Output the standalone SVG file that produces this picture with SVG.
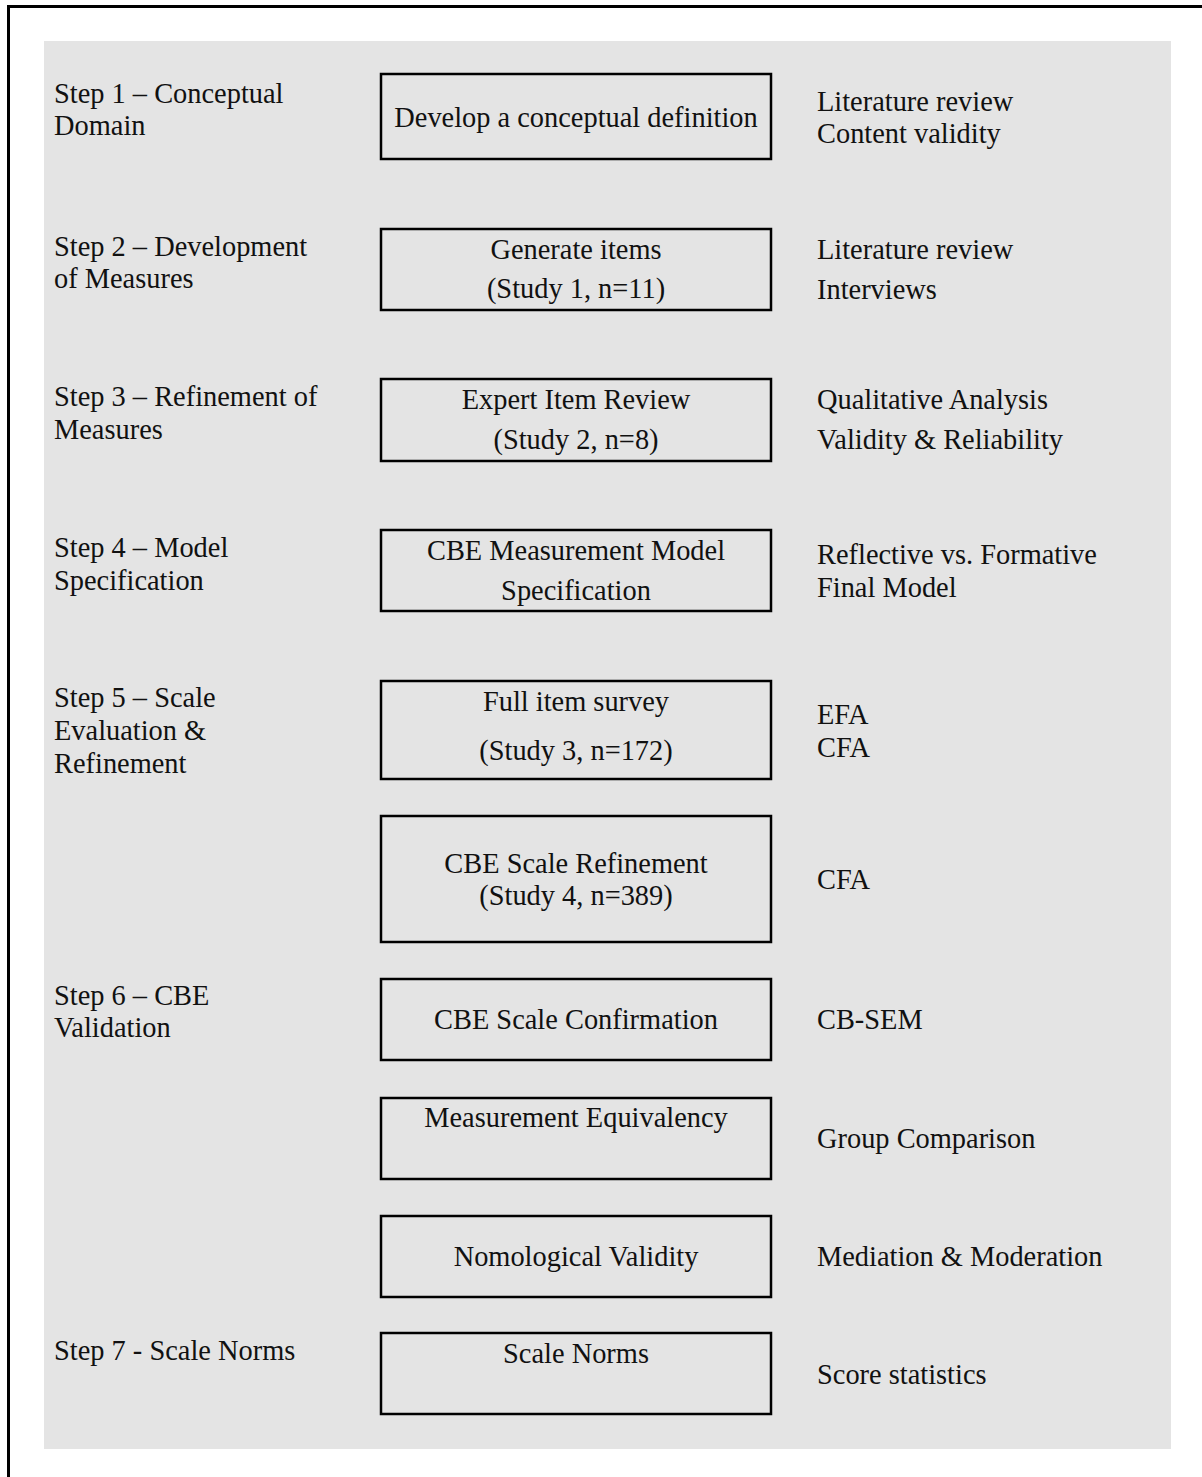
<svg xmlns="http://www.w3.org/2000/svg" width="1202" height="1477" viewBox="0 0 1202 1477">
<style>
text{font-family:"Liberation Serif","Times New Roman",serif;font-size:28.4px;fill:#111}
.c{text-anchor:middle}
.box{fill:#e4e4e4;stroke:#000;stroke-width:2.5}
</style>
<rect width="1202" height="1477" fill="#fff"/>
<path d="M8.5 1477 V6.5 H1202" fill="none" stroke="#000" stroke-width="3"/>
<rect x="44" y="41" width="1127" height="1408" fill="#e4e4e4"/>
<g id="labels-left">
<text x="54" y="103">Step 1 – Conceptual</text>
<text x="54" y="135">Domain</text>
<text x="54" y="256">Step 2 – Development</text>
<text x="54" y="288">of Measures</text>
<text x="54" y="406">Step 3 – Refinement of</text>
<text x="54" y="439">Measures</text>
<text x="54" y="557">Step 4 – Model</text>
<text x="54" y="590">Specification</text>
<text x="54" y="707">Step 5 – Scale</text>
<text x="54" y="740">Evaluation &amp;</text>
<text x="54" y="773">Refinement</text>
<text x="54" y="1005">Step 6 – CBE</text>
<text x="54" y="1037">Validation</text>
<text x="54" y="1360">Step 7 - Scale Norms</text>
</g>
<g id="n1"><rect class="box" x="381" y="74" width="390" height="85"/><text class="c" x="576" y="127">Develop a conceptual definition</text></g>
<g id="n2"><rect class="box" x="381" y="229" width="390" height="81"/><text class="c" x="576" y="259">Generate items</text><text class="c" x="576" y="298">(Study 1, n=11)</text></g>
<g id="n3"><rect class="box" x="381" y="379" width="390" height="82"/><text class="c" x="576" y="409">Expert Item Review</text><text class="c" x="576" y="449">(Study 2, n=8)</text></g>
<g id="n4"><rect class="box" x="381" y="530" width="390" height="81"/><text class="c" x="576" y="560">CBE Measurement Model</text><text class="c" x="576" y="600">Specification</text></g>
<g id="n5"><rect class="box" x="381" y="681" width="390" height="98"/><text class="c" x="576" y="711">Full item survey</text><text class="c" x="576" y="760">(Study 3, n=172)</text></g>
<g id="n6"><rect class="box" x="381" y="816" width="390" height="126"/><text class="c" x="576" y="873">CBE Scale Refinement</text><text class="c" x="576" y="905">(Study 4, n=389)</text></g>
<g id="n7"><rect class="box" x="381" y="979" width="390" height="81"/><text class="c" x="576" y="1029">CBE Scale Confirmation</text></g>
<g id="n8"><rect class="box" x="381" y="1098" width="390" height="81"/><text class="c" x="576" y="1127">Measurement Equivalency</text></g>
<g id="n9"><rect class="box" x="381" y="1216" width="390" height="81"/><text class="c" x="576" y="1266">Nomological Validity</text></g>
<g id="n10"><rect class="box" x="381" y="1333" width="390" height="81"/><text class="c" x="576" y="1363">Scale Norms</text></g>
<g id="labels-right">
<text x="817" y="111">Literature review</text>
<text x="817" y="143">Content validity</text>
<text x="817" y="259">Literature review</text>
<text x="817" y="299">Interviews</text>
<text x="817" y="409">Qualitative Analysis</text>
<text x="817" y="449">Validity &amp; Reliability</text>
<text x="817" y="564">Reflective vs. Formative</text>
<text x="817" y="597">Final Model</text>
<text x="817" y="724">EFA</text>
<text x="817" y="757">CFA</text>
<text x="817" y="889">CFA</text>
<text x="817" y="1029">CB-SEM</text>
<text x="817" y="1148">Group Comparison</text>
<text x="817" y="1266">Mediation &amp; Moderation</text>
<text x="817" y="1384">Score statistics</text>
</g>
<g id="connectors"/>
</svg>
